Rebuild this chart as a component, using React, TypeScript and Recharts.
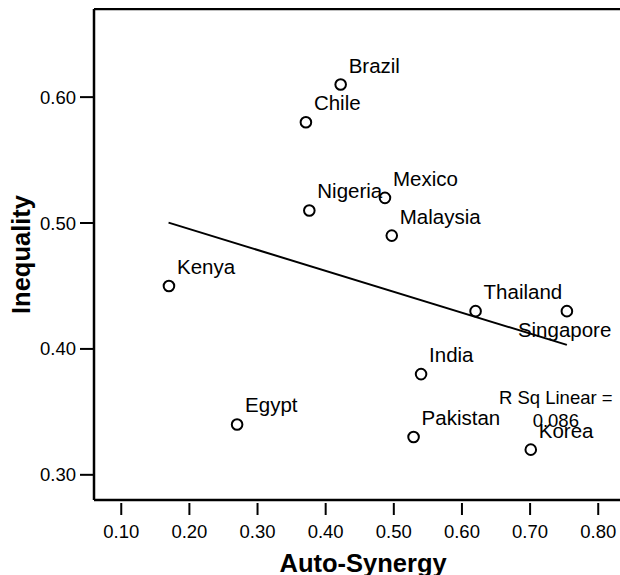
import React from 'react';
import { ScatterChart, Scatter, XAxis, YAxis, ReferenceLine, ReferenceDot } from 'recharts';

const countries = ['Brazil', 'Chile', 'Nigeria', 'Mexico', 'Malaysia', 'Kenya', 'Egypt', 'Thailand', 'Singapore', 'India', 'Pakistan', 'Korea'];
const autoSynergy = [0.422, 0.371, 0.376, 0.487, 0.497, 0.170, 0.270, 0.620, 0.754, 0.540, 0.529, 0.701];
const inequality = [0.610, 0.580, 0.510, 0.520, 0.490, 0.450, 0.340, 0.430, 0.430, 0.380, 0.330, 0.320];
const xTicks = [0.1, 0.2, 0.3, 0.4, 0.5, 0.6, 0.7, 0.8];
const yTicks = [0.3, 0.4, 0.5, 0.6];
const fitLineX = [0.1694, 0.754];
const fitLineY = [0.5003, 0.4032];
const rSqText = ['R Sq Linear =', '0.086'];
const rSqAnchor = { x: 0.7377, y: 0.3563 };

const FONT = '"Liberation Sans", Arial, Helvetica, sans-serif';

const points = countries.map((name, i) => ({ name, x: autoSynergy[i], y: inequality[i] }));

const labelOffsets: Record<string, { dx: number; dy: number }> = {
  Singapore: { dx: -49, dy: 26 },
};

const PointShape = (props: any) => {
  const { cx, cy, payload } = props;
  const off = labelOffsets[payload.name] || { dx: 8, dy: -12 };
  return (
    <g>
      <circle cx={cx} cy={cy} r={5.3} fill="none" stroke="#000" strokeWidth={2} />
      <text x={cx + off.dx} y={cy + off.dy} fontSize={20.5} fontFamily={FONT} fill="#000">
        {payload.name}
      </text>
    </g>
  );
};

const XTick = (props: any) => {
  const { x, y, payload } = props;
  return (
    <g>
      <line x1={x} x2={x} y1={y + 3} y2={y + 15} stroke="#000" strokeWidth={2} />
      <text x={x} y={y + 37.5} textAnchor="middle" fontSize={18.5} fontFamily={FONT} fill="#000">
        {Number(payload.value).toFixed(2)}
      </text>
    </g>
  );
};

const RSqShape = (props: any) => {
  const { cx, cy } = props;
  return (
    <g>
      <text x={cx} y={cy} textAnchor="middle" fontSize={18.5} fontFamily={FONT} fill="#000">
        {rSqText[0]}
      </text>
      <text x={cx} y={cy + 22.7} textAnchor="middle" fontSize={18.5} fontFamily={FONT} fill="#000">
        {rSqText[1]}
      </text>
    </g>
  );
};

export default function App() {
  return (
    <div style={{ position: 'absolute', left: 8, top: 8, width: 612, height: 567, overflow: 'hidden' }}>
      <ScatterChart width={630} height={567} margin={{ top: 1, right: 5.7, bottom: 0, left: 0 }}>
        <XAxis
          type="number"
          dataKey="x"
          domain={[0.06, 0.85]}
          ticks={xTicks}
          allowDataOverflow
          height={75}
          axisLine={{ stroke: '#000', strokeWidth: 2.5 }}
          tickLine={false}
          tickSize={0}
          tickMargin={0}
          tick={<XTick />}
          interval={0}
          label={{
            content: (p: any) => {
              const vb = p.viewBox || {};
              return (
                <text x={vb.x + vb.width / 2} y={563.5} textAnchor="middle" fontSize={25.5} fontWeight="bold" fontFamily={FONT} fill="#000">
                  Auto-Synergy
                </text>
              );
            },
          }}
        />
        <YAxis
          type="number"
          dataKey="y"
          domain={[0.28, 0.67]}
          ticks={yTicks}
          allowDataOverflow
          width={86}
          axisLine={{ stroke: '#000', strokeWidth: 2.5 }}
          tickLine={{ stroke: '#000', strokeWidth: 2 }}
          tickSize={14}
          tickMargin={4}
          interval={0}
          tickFormatter={(v: number) => v.toFixed(2)}
          tick={{ fontSize: 18.5, fontFamily: FONT, fill: '#000' }}
          label={{
            content: (p: any) => {
              const vb = p.viewBox || {};
              const cy = vb.y + vb.height / 2;
              return (
                <text x={22} y={cy} transform={`rotate(-90, 22, ${cy})`} textAnchor="middle" fontSize={25.5} fontWeight="bold" fontFamily={FONT} fill="#000">
                  Inequality
                </text>
              );
            },
          }}
        />
        <ReferenceLine y={0.67} stroke="#000" strokeWidth={2.5} />
        <ReferenceLine
          segment={[
            { x: fitLineX[0], y: fitLineY[0] },
            { x: fitLineX[1], y: fitLineY[1] },
          ]}
          stroke="#000"
          strokeWidth={2}
        />
        <Scatter data={points} isAnimationActive={false} shape={<PointShape />} />
        <ReferenceDot x={rSqAnchor.x} y={rSqAnchor.y} r={0} shape={<RSqShape />} />
      </ScatterChart>
    </div>
  );
}
